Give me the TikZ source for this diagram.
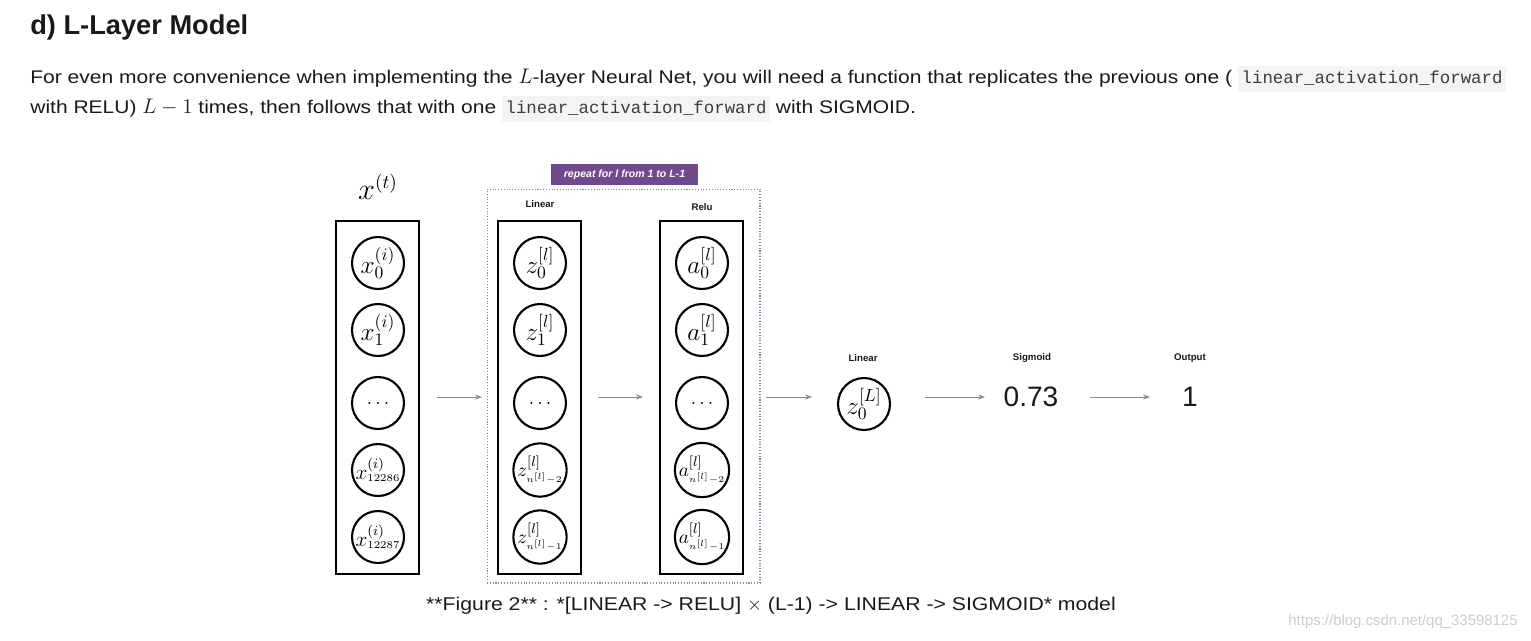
\documentclass[tikz,border=0pt]{standalone}
\usepackage[no-math]{fontspec}
\setmainfont{Liberation Sans}
\setmonofont{Liberation Mono}
\newfontfamily\webfont[FakeStretch=1.15]{Liberation Sans}
\usepackage{tikz}
\usetikzlibrary{
  arrows.meta,
  positioning
}
\definecolor{loopviolet}{RGB}{112,74,140}
\definecolor{flowgray}{RGB}{140,140,140}
\definecolor{codebg}{RGB}{243,244,245}
\definecolor{codetext}{RGB}{60,60,60}
\definecolor{textblack}{RGB}{25,25,25}
\definecolor{markgray}{RGB}{205,205,205}
\newcommand{\codespan}[1]{{\setlength{\fboxsep}{2pt}\colorbox{codebg}{\ttfamily\fontsize{9.9}{11}\selectfont\color{codetext}\strut #1}}}

\begin{document}
\begin{tikzpicture}[x=0.02cm, y=-0.02cm,
            neuron/.style={circle, draw, line width=1.2pt, minimum size=1.04cm, inner sep=0pt, font=\fontsize{14}{15}\selectfont},
            smallneuron/.style={neuron, font=\fontsize{12}{13}\selectfont},
            tinyneuron/.style={neuron, font=\fontsize{11}{12}\selectfont},
            layerbox/.style={rectangle, draw, line width=1.3pt, minimum width=1.66cm, minimum height=7.06cm},
            steplabel/.style={font=\fontsize{5.5}{6}\selectfont\bfseries, text=textblack},
            flow/.style={draw=flowgray, line width=0.5pt, -{Stealth[length=4pt, width=3pt]}},
            para/.style={anchor=base west, inner sep=0pt, font=\fontsize{10.4}{12}\webfont, text=textblack}]
            \useasboundingbox (0,0) rectangle (1531,640);
            % heading and text
            \node [para, font=\fontsize{15.5}{17}\selectfont\bfseries] (title) at (30,34) {d) L-Layer Model};
            \node [para] (line1) at (30,83) {For even more convenience when implementing the {\large$L$}-layer Neural Net, you will need a function that replicates the previous one ( \codespan{linear\_activation\_forward}};
            \node [para] (line2) at (30,113) {with RELU) {\large$L-1$} times, then follows that with one \codespan{linear\_activation\_forward} with SIGMOID.};
            % input layer
            \node [font=\fontsize{16}{18}\selectfont] (xt) at (378,187) {$x^{(t)}$};
            \node [layerbox] (inbox) at (377.5,397.5) {};
            \node [neuron] (x0) at (378,263) {$x_0^{(i)}$};
            \node [neuron] (x1) at (378,330) {$x_1^{(i)}$};
            \node [neuron, font=\fontsize{11}{12}\selectfont] (xd) at (378,403) {$\dots$};
            \node [smallneuron] (x2) at (378,470) {$x_{\scriptscriptstyle 12286}^{(i)}$};
            \node [smallneuron] (x3) at (378,537) {$x_{\scriptscriptstyle 12287}^{(i)}$};
            % repeated block
            \node [rectangle, draw=loopviolet!70, densely dotted, line width=0.6pt, minimum width=5.46cm, minimum height=7.88cm] (loop) at (623.5,386) {};
            \node [fill=loopviolet, text=white, font=\fontsize{6}{7}\selectfont\bfseries\itshape, minimum width=2.94cm, minimum height=0.42cm, inner sep=0pt] (looptag) at (624.5,174.5) {repeat for l from 1 to L-1};
            \node [steplabel] (linlab) at (540,204) {Linear};
            \node [steplabel] (relulab) at (702,207) {Relu};
            \node [layerbox] (zbox) at (539.5,397.5) {};
            \node [neuron] (z0) at (540,263) {$z_0^{[l]}$};
            \node [neuron] (z1) at (540,330) {$z_1^{[l]}$};
            \node [neuron, font=\fontsize{11}{12}\selectfont] (zd) at (540,403) {$\dots$};
            \node [tinyneuron] (z2) at (540,470) {$z_{\scriptscriptstyle n^{[l]}-2}^{[l]}$};
            \node [tinyneuron] (z3) at (540,537) {$z_{\scriptscriptstyle n^{[l]}-1}^{[l]}$};
            \node [layerbox] (abox) at (701.5,397.5) {};
            \node [neuron] (a0) at (702,263) {$a_0^{[l]}$};
            \node [neuron] (a1) at (702,330) {$a_1^{[l]}$};
            \node [neuron, font=\fontsize{11}{12}\selectfont] (ad) at (702,403) {$\dots$};
            \node [tinyneuron] (a2) at (702,470) {$a_{\scriptscriptstyle n^{[l]}-2}^{[l]}$};
            \node [tinyneuron] (a3) at (702,537) {$a_{\scriptscriptstyle n^{[l]}-1}^{[l]}$};
            % last layers
            \node [steplabel] (linLlab) at (863,358) {Linear};
            \node [neuron] (zL) at (864,404) {$z_0^{[L]}$};
            \node [steplabel] (siglab) at (1032,358) {Sigmoid};
            \node [font=\fontsize{16}{18}\selectfont, text=textblack] (yhat) at (1031,397) {0.73};
            \node [steplabel] (outlab) at (1190,358) {Output};
            \node [font=\fontsize{16}{18}\selectfont, text=textblack] (yout) at (1190,397) {1};
            % connectors
            \coordinate (c1s) at (437,397); \coordinate (c1e) at (482,397);
            \coordinate (c2s) at (598,397); \coordinate (c2e) at (643,397);
            \coordinate (c3s) at (766,397); \coordinate (c3e) at (812,397);
            \coordinate (c4s) at (925,397); \coordinate (c4e) at (985,397);
            \coordinate (c5s) at (1090,397); \coordinate (c5e) at (1150,397);
            \draw [flow] (c1s) -- (c1e);
            \draw [flow] (c2s) -- (c2e);
            \draw [flow] (c3s) -- (c3e);
            \draw [flow] (c4s) -- (c4e);
            \draw [flow] (c5s) -- (c5e);
            % caption
            \node [font=\fontsize{10.5}{12}\webfont, text=textblack] (cap) at (771,606) {**Figure 2** : *[LINEAR -> RELU] $\times$ (L-1) -> LINEAR -> SIGMOID* model};
            \node [font=\fontsize{8.5}{10}\selectfont, text=markgray] (mark) at (1403,622) {https://blog.csdn.net/qq\_33598125};
        \end{tikzpicture}
\end{document}
